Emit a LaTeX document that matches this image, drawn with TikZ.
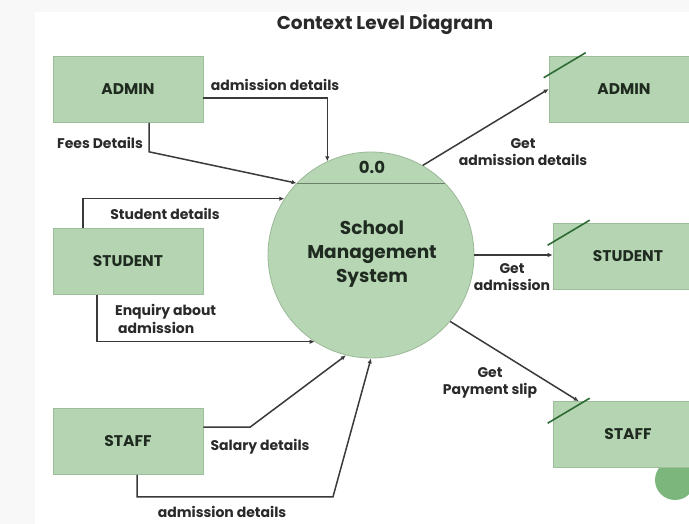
\documentclass[tikz,border=0pt]{standalone}
\usepackage{fontspec}
\setmainfont{Poppins}
\usetikzlibrary{arrows.meta}
\definecolor{boxgreen}{HTML}{B5D5B2}
\definecolor{boxedge}{HTML}{9DBE9A}
\definecolor{circgreen}{HTML}{B7D7B4}
\definecolor{circedge}{HTML}{9BB898}
\definecolor{slashgreen}{HTML}{2E6A34}
\definecolor{flowgray}{HTML}{3A3A3A}
\definecolor{textdark}{HTML}{1F2B20}
\definecolor{labeldark}{HTML}{2A2A2A}
\definecolor{dotgreen}{HTML}{7DB67C}
\definecolor{bandgray}{HTML}{F8F8F8}

\begin{document}
\begin{tikzpicture}
[x=1pt, y=-1pt, >={Latex[length=5pt,width=4.5pt]},
flow/.style={->, draw=flowgray, line width=1.5pt},
entity/.style={draw=boxedge, fill=boxgreen, line width=0.6pt, minimum width=150pt,
  minimum height=66pt, font=\bfseries\fontsize{15.5}{18}\selectfont, text=textdark},
process/.style={circle, draw=circedge, fill=circgreen, line width=0.8pt,
  minimum size=206pt, inner sep=0pt},
lbl/.style={font=\bfseries\fontsize{14}{17.5}\selectfont, text=labeldark, inner sep=0pt},
slash/.style={draw=slashgreen, line width=1.6pt}
]
  \clip (0,0) rectangle (689,524);
  \fill[bandgray] (0,0) rectangle (689,524);
  \fill[white] (35,12) rectangle (689,524);

  \node[lbl, font=\bfseries\fontsize{18.5}{22}\selectfont] (title) at (385,25) {Context Level Diagram};

  \fill[dotgreen] (675,480) circle (20);

  \node[entity]  (admin)    at (128,89.5)  {ADMIN};
  \node[entity]  (student)  at (128,261.5) {STUDENT};
  \node[entity]  (staff)    at (128,441.5) {STAFF};
  \node[entity]  (radmin)   at (624,89)    {ADMIN};
  \node[entity]  (rstudent) at (628,256.5) {STUDENT};
  \node[entity]  (rstaff)   at (628,434.5) {STAFF};

  \node[process] (sms) at (371,255) {};
  \draw[draw=circedge!70!black, line width=1.2pt] (sms.136) -- (sms.44);
  \node[lbl, font=\bfseries\fontsize{16.5}{18}\selectfont, text=textdark] (smsid) at (372,167) {0.0};
  \node[lbl, align=center, font=\bfseries\fontsize{18.5}{24}\selectfont, text=textdark]
    (smsname) at (372,254) {School\\Management\\System};

  \foreach \b in {radmin,rstudent,rstaff}
    \draw[slash] ([shift={(-5pt,-22pt)}]\b.north west) -- ([shift={(37pt,3pt)}]\b.north west);

  \draw[flow] ([yshift=-8.5pt]admin.east) -| (sms.115);
  \draw[flow] ([xshift=21pt]admin.south) -- ++(0,29) -- (sms.136);
  \draw[flow] ([xshift=-45pt]student.north) |- (sms.147);
  \draw[flow] ([xshift=-31pt]student.south) |- (sms.237);
  \draw[flow] ([yshift=14.5pt]staff.east) -- ++(47,0) -- (sms.256);
  \draw[flow] ([xshift=9pt]staff.south) -- ++(0,22) -- ++(196,0) -- (sms.270);
  \path
    (sms.60)   edge[flow] (radmin.west)
    (sms.east) edge[flow] (sms.east -| rstudent.west)
    (sms.-40)  edge[flow] ([xshift=26pt]rstaff.north west)
    ;

  \node[lbl] (l1) at (275,85)  {admission details};
  \node[lbl] (l2) at (100,143) {Fees Details};
  \node[lbl] (l3) at (165,214) {Student details};
  \node[lbl, align=left, anchor=west] (l4) at (115,319) {Enquiry about\\\ admission};
  \node[lbl] (l5) at (260,447) {Salary details};
  \node[lbl] (l6) at (222,512) {admission details};
  \node[lbl, align=center] (l7) at (523,152) {Get\\admission details};
  \node[lbl, align=center] (l8) at (512,277) {Get\\admission};
  \node[lbl, align=center] (l9) at (490,383) {Get\\Payment slip};
\end{tikzpicture}
\end{document}
